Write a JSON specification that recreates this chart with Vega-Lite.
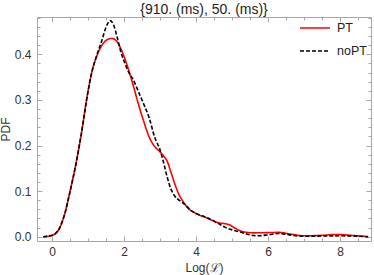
{
  "$schema": "https://vega.github.io/schema/vega-lite/v6.json",
  "width": 334,
  "height": 224,
  "autosize": {"type": "none"},
  "padding": {"left": 37, "top": 17, "right": 3, "bottom": 34},
  "background": "white",
  "title": {"text": "{910. (ms), 50. (ms)}", "font": "Liberation Sans", "fontSize": 14, "fontWeight": "normal", "color": "#222", "anchor": "middle", "offset": 1, "dy": 6},
  "config": {
    "view": {"stroke": "#a8a8a8", "strokeWidth": 1},
    "font": "Liberation Sans"
  },
  "data": {"values": [
    {"x": -0.25, "y": 0.0, "s": "PT"},
    {"x": 0.0, "y": 0.003, "s": "PT"},
    {"x": 0.2, "y": 0.018, "s": "PT"},
    {"x": 0.35, "y": 0.05, "s": "PT"},
    {"x": 0.5, "y": 0.1, "s": "PT"},
    {"x": 0.65, "y": 0.155, "s": "PT"},
    {"x": 0.8, "y": 0.22, "s": "PT"},
    {"x": 1.0, "y": 0.32, "s": "PT"},
    {"x": 1.1, "y": 0.36, "s": "PT"},
    {"x": 1.25, "y": 0.398, "s": "PT"},
    {"x": 1.4, "y": 0.422, "s": "PT"},
    {"x": 1.55, "y": 0.433, "s": "PT"},
    {"x": 1.66, "y": 0.435, "s": "PT"},
    {"x": 1.8, "y": 0.428, "s": "PT"},
    {"x": 1.95, "y": 0.405, "s": "PT"},
    {"x": 2.1, "y": 0.372, "s": "PT"},
    {"x": 2.25, "y": 0.333, "s": "PT"},
    {"x": 2.4, "y": 0.29, "s": "PT"},
    {"x": 2.55, "y": 0.252, "s": "PT"},
    {"x": 2.7, "y": 0.218, "s": "PT"},
    {"x": 2.85, "y": 0.198, "s": "PT"},
    {"x": 3.0, "y": 0.186, "s": "PT"},
    {"x": 3.1, "y": 0.177, "s": "PT"},
    {"x": 3.2, "y": 0.165, "s": "PT"},
    {"x": 3.3, "y": 0.142, "s": "PT"},
    {"x": 3.4, "y": 0.118, "s": "PT"},
    {"x": 3.5, "y": 0.097, "s": "PT"},
    {"x": 3.65, "y": 0.076, "s": "PT"},
    {"x": 3.8, "y": 0.061, "s": "PT"},
    {"x": 4.0, "y": 0.051, "s": "PT"},
    {"x": 4.3, "y": 0.041, "s": "PT"},
    {"x": 4.6, "y": 0.031, "s": "PT"},
    {"x": 4.9, "y": 0.027, "s": "PT"},
    {"x": 5.1, "y": 0.018, "s": "PT"},
    {"x": 5.3, "y": 0.011, "s": "PT"},
    {"x": 5.6, "y": 0.0085, "s": "PT"},
    {"x": 6.0, "y": 0.009, "s": "PT"},
    {"x": 6.3, "y": 0.0095, "s": "PT"},
    {"x": 6.6, "y": 0.006, "s": "PT"},
    {"x": 7.0, "y": 0.002, "s": "PT"},
    {"x": 7.5, "y": 0.003, "s": "PT"},
    {"x": 7.9, "y": 0.005, "s": "PT"},
    {"x": 8.3, "y": 0.003, "s": "PT"},
    {"x": 8.78, "y": 0.0, "s": "PT"},
    {"x": -0.25, "y": 0.0, "s": "noPT"},
    {"x": 0.0, "y": 0.003, "s": "noPT"},
    {"x": 0.2, "y": 0.018, "s": "noPT"},
    {"x": 0.35, "y": 0.05, "s": "noPT"},
    {"x": 0.5, "y": 0.1, "s": "noPT"},
    {"x": 0.65, "y": 0.155, "s": "noPT"},
    {"x": 0.8, "y": 0.22, "s": "noPT"},
    {"x": 1.0, "y": 0.32, "s": "noPT"},
    {"x": 1.1, "y": 0.36, "s": "noPT"},
    {"x": 1.25, "y": 0.4, "s": "noPT"},
    {"x": 1.38, "y": 0.43, "s": "noPT"},
    {"x": 1.5, "y": 0.46, "s": "noPT"},
    {"x": 1.61, "y": 0.474, "s": "noPT"},
    {"x": 1.7, "y": 0.466, "s": "noPT"},
    {"x": 1.8, "y": 0.44, "s": "noPT"},
    {"x": 1.9, "y": 0.408, "s": "noPT"},
    {"x": 2.0, "y": 0.385, "s": "noPT"},
    {"x": 2.12, "y": 0.362, "s": "noPT"},
    {"x": 2.25, "y": 0.345, "s": "noPT"},
    {"x": 2.4, "y": 0.318, "s": "noPT"},
    {"x": 2.55, "y": 0.29, "s": "noPT"},
    {"x": 2.7, "y": 0.26, "s": "noPT"},
    {"x": 2.85, "y": 0.218, "s": "noPT"},
    {"x": 3.0, "y": 0.19, "s": "noPT"},
    {"x": 3.1, "y": 0.162, "s": "noPT"},
    {"x": 3.2, "y": 0.13, "s": "noPT"},
    {"x": 3.3, "y": 0.105, "s": "noPT"},
    {"x": 3.4, "y": 0.09, "s": "noPT"},
    {"x": 3.55, "y": 0.079, "s": "noPT"},
    {"x": 3.7, "y": 0.07, "s": "noPT"},
    {"x": 3.85, "y": 0.058, "s": "noPT"},
    {"x": 4.0, "y": 0.051, "s": "noPT"},
    {"x": 4.3, "y": 0.042, "s": "noPT"},
    {"x": 4.6, "y": 0.03, "s": "noPT"},
    {"x": 4.8, "y": 0.021, "s": "noPT"},
    {"x": 5.0, "y": 0.015, "s": "noPT"},
    {"x": 5.2, "y": 0.011, "s": "noPT"},
    {"x": 5.4, "y": 0.006, "s": "noPT"},
    {"x": 5.7, "y": 0.002, "s": "noPT"},
    {"x": 6.0, "y": 0.004, "s": "noPT"},
    {"x": 6.3, "y": 0.007, "s": "noPT"},
    {"x": 6.6, "y": 0.004, "s": "noPT"},
    {"x": 7.0, "y": 0.001, "s": "noPT"},
    {"x": 7.5, "y": 0.0015, "s": "noPT"},
    {"x": 8.0, "y": 0.002, "s": "noPT"},
    {"x": 8.78, "y": 0.0, "s": "noPT"}
  ]},
  "layer": [
    {
      "mark": {"type": "line", "interpolate": "monotone", "strokeWidth": 1.6},
      "encoding": {
        "x": {"field": "x", "type": "quantitative",
          "scale": {"domain": [-0.42, 8.86], "nice": false, "zero": false},
          "axis": {"orient": "bottom", "title": "Log(ℒ)", "values": [0,0.5,1,1.5,2,2.5,3,3.5,4,4.5,5,5.5,6,6.5,7,7.5,8,8.5],
            "labelExpr": "datum.value % 2 === 0 ? format(datum.value, 'd') : ''",
            "grid": false, "domain": false, "tickColor": "#a8a8a8",
            "tickSize": {"condition": {"test": "datum.value % 2 === 0", "value": -5}, "value": -3},
            "labelPadding": 10, "labelFont": "Liberation Sans", "labelFontSize": 12, "labelColor": "#333",
            "titleFont": "Liberation Sans", "titleFontSize": 12, "titleFontWeight": "normal", "titleColor": "#333", "titlePadding": 5}},
        "y": {"field": "y", "type": "quantitative",
          "scale": {"domain": [-0.0094, 0.482], "nice": false, "zero": false},
          "axis": {"orient": "left", "title": "PDF", "values": [0,0.02,0.04,0.06,0.08,0.1,0.12,0.14,0.16,0.18,0.2,0.22,0.24,0.26,0.28,0.3,0.32,0.34,0.36,0.38,0.4,0.42,0.44,0.46,0.48],
            "labelExpr": "abs(round(datum.value*10) - datum.value*10) < 1e-6 ? format(datum.value, '.1f') : ''",
            "grid": false, "domain": false, "tickColor": "#a8a8a8",
            "tickSize": {"condition": {"test": "abs(round(datum.value*10) - datum.value*10) < 1e-6", "value": -5}, "value": -3},
            "labelPadding": 11, "labelFont": "Liberation Sans", "labelFontSize": 12, "labelColor": "#333",
            "titleFont": "Liberation Sans", "titleFontSize": 12, "titleFontWeight": "normal", "titleColor": "#333", "titlePadding": 2}},
        "color": {"field": "s", "type": "nominal",
          "scale": {"domain": ["PT", "noPT"], "range": ["#ff0000", "#000000"]},
          "legend": {"title": null, "orient": "none", "legendX": 262, "legendY": -5, "symbolType": "stroke", "symbolSize": 900, "symbolStrokeWidth": 1.6, "labelFont": "Liberation Sans", "labelFontSize": 12.5, "labelColor": "#222", "labelOffset": 6, "rowPadding": -10}},
        "strokeDash": {"field": "s", "type": "nominal",
          "scale": {"domain": ["PT", "noPT"], "range": [[1, 0], [4, 2]]},
          "legend": null}
      }
    },
    {
      "mark": {"type": "line", "opacity": 0},
      "encoding": {
        "x": {"field": "x", "type": "quantitative",
          "axis": {"orient": "top", "title": null, "values": [0,0.5,1,1.5,2,2.5,3,3.5,4,4.5,5,5.5,6,6.5,7,7.5,8,8.5], "labels": false, "grid": false, "domain": false, "tickColor": "#a8a8a8",
            "tickSize": {"condition": {"test": "datum.value % 2 === 0", "value": -5}, "value": -3}}},
        "y": {"field": "y", "type": "quantitative",
          "axis": {"orient": "right", "title": null, "values": [0,0.02,0.04,0.06,0.08,0.1,0.12,0.14,0.16,0.18,0.2,0.22,0.24,0.26,0.28,0.3,0.32,0.34,0.36,0.38,0.4,0.42,0.44,0.46,0.48], "labels": false, "grid": false, "domain": false, "tickColor": "#a8a8a8",
            "tickSize": {"condition": {"test": "abs(round(datum.value*10) - datum.value*10) < 1e-6", "value": -5}, "value": -3}}},
        "detail": {"field": "s"}
      }
    }
  ],
  "resolve": {"axis": {"x": "independent", "y": "independent"}}
}
